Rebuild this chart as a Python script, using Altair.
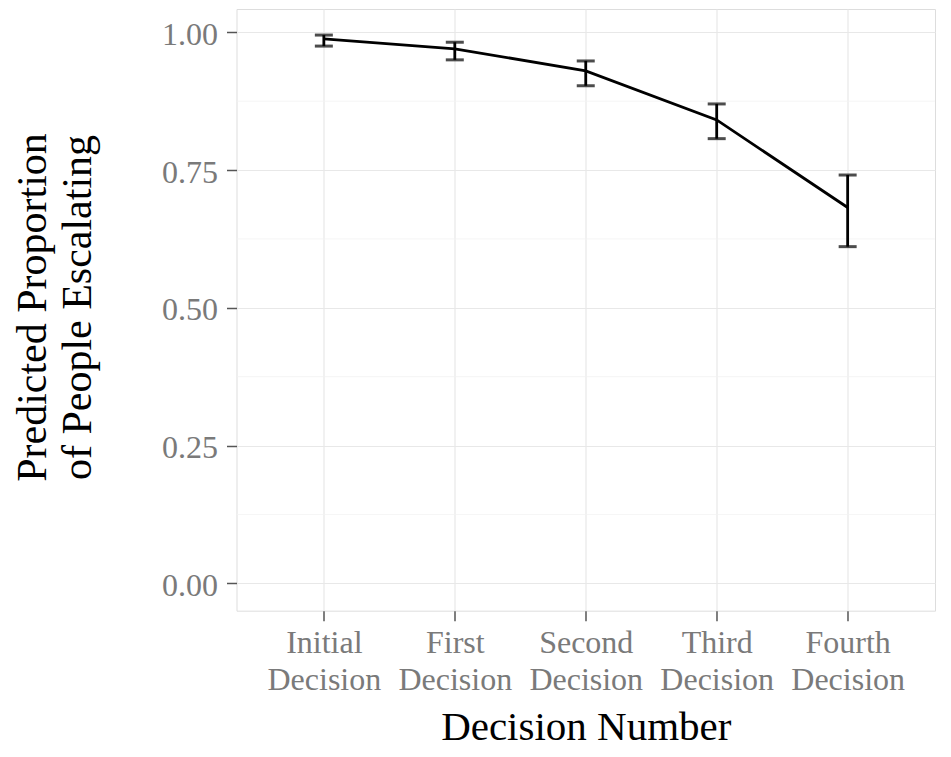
import altair as alt
import pandas as pd

categories = ["Initial Decision", "First Decision", "Second Decision", "Third Decision", "Fourth Decision"]
mean = [0.988, 0.970, 0.930, 0.841, 0.682]
lower = [0.975, 0.950, 0.903, 0.807, 0.611]
upper = [0.995, 0.982, 0.948, 0.870, 0.741]
y_ticks = [0.0, 0.25, 0.5, 0.75, 1.0]
minor_breaks = [0.125, 0.375, 0.625, 0.875]

df = pd.DataFrame({"decision": categories, "mean": mean, "lower": lower, "upper": upper})
minor_df = pd.DataFrame({"v": minor_breaks})

FONT = "Liberation Serif"
W, H = 698.5, 601.7
ydom = [-0.0497, 1.0423]

xenc = alt.X(
    "decision:N",
    sort=categories,
    scale=alt.Scale(type="point", padding=0.667),
    axis=alt.Axis(
        title="Decision Number",
        labelExpr="split(datum.label, ' ')",
        labelFont=FONT, labelFontSize=32, labelColor="#7a7a7a", labelLineHeight=37,
        labelPadding=7, labelOverlap=False, labelAngle=0,
        tickSize=10, tickColor="#555555", tickWidth=1.5,
        domain=False, grid=True, gridColor="#e8e8e8", gridWidth=1.2,
        titleFont=FONT, titleFontSize=41, titleFontWeight="normal", titleColor="#000000",
        titleBaseline="alphabetic", titleY=129,
    ),
)
yscale = alt.Scale(domain=ydom, nice=False, zero=False)
yaxis = alt.Axis(
    title=["Predicted Proportion", "of People Escalating"],
    values=y_ticks, format=".2f",
    labelFont=FONT, labelFontSize=32, labelColor="#7a7a7a", labelPadding=9, labelOffset=2,
    tickSize=10, tickColor="#555555", tickWidth=1.5,
    domain=False, grid=True, gridColor="#e8e8e8", gridWidth=1.2,
    titleFont=FONT, titleFontSize=42, titleFontWeight="normal", titleColor="#000000",
    titleLineHeight=45, titleAngle=270, titleAlign="center", titleBaseline="alphabetic",
    titleX=-191, titleY=298,
)

base = alt.Chart(df)

minor = alt.Chart(minor_df).mark_rule(color="#f2f2f2", strokeWidth=0.8).encode(
    y=alt.Y("v:Q", scale=yscale, axis=yaxis)
)

line = base.mark_line(color="#000000", strokeWidth=2.8).encode(
    x=xenc, y=alt.Y("mean:Q", scale=yscale)
)
rule = base.mark_rule(color="#000000", strokeWidth=2.8).encode(
    x=alt.X("decision:N", sort=categories), y=alt.Y("lower:Q", scale=yscale), y2="upper:Q"
)
cap_lo = base.mark_tick(color="#000000", size=18, thickness=3).encode(
    x=alt.X("decision:N", sort=categories), y=alt.Y("lower:Q", scale=yscale)
)
cap_hi = base.mark_tick(color="#000000", size=18, thickness=3).encode(
    x=alt.X("decision:N", sort=categories), y=alt.Y("upper:Q", scale=yscale)
)

chart = alt.layer(minor, line, rule, cap_lo, cap_hi).properties(
    width=W, height=H,
    autosize=alt.AutoSizeParams(type="none"),
    padding={"left": 228.5, "top": 1, "right": 5, "bottom": 138},
).configure_view(
    stroke="#a0a0a0", strokeWidth=1.5
).configure(background="#ffffff")

chart.save("out.html", embed_options={"renderer": "svg", "actions": False})
